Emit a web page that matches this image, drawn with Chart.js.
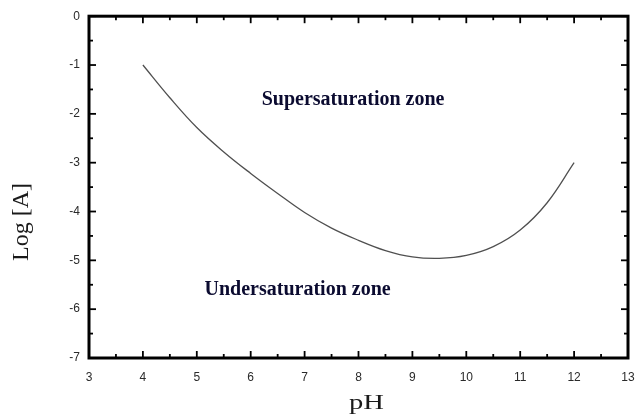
<!DOCTYPE html>
<html>
<head>
<meta charset="utf-8">
<script src="https://cdn.jsdelivr.net/npm/chart.js@4/dist/chart.umd.min.js"></script>
<style>
  html, body { margin: 0; padding: 0; background: #fff; }
  #wrap { width: 637px; height: 415px; }
</style>
</head>
<body>
<div id="wrap"><canvas id="c" width="637" height="415"></canvas></div>
<script>
// Solubility curve: log of concentration against pH
const phValues = [4, 4.5, 5, 5.5, 6, 6.5, 7, 7.5, 8, 8.5, 9, 9.5, 10, 10.5, 11, 11.5, 12];
const logA     = [-1.0, -1.67, -2.28, -2.78, -3.22, -3.63, -4.02, -4.34, -4.59, -4.80, -4.93, -4.96, -4.90, -4.72, -4.38, -3.82, -3.0];

const xTicks = [3, 4, 5, 6, 7, 8, 9, 10, 11, 12, 13];
const yTicks = [0, -1, -2, -3, -4, -5, -6, -7];

const zoneLabels = [
  { text: 'Supersaturation zone', x: 7.90, y: -1.71 },
  { text: 'Undersaturation zone', x: 6.87, y: -5.61 }
];

const xTitle = 'pH';
const yTitle = 'Log [A]';

const points = phValues.map((p, i) => ({ x: p, y: logA[i] }));

// Frame with inward major/minor ticks on all four sides, zone labels and axis titles
const framePlugin = {
  id: 'frame',
  afterDraw(chart) {
    const { ctx, chartArea: a, scales: { x, y } } = chart;
    ctx.save();
    ctx.strokeStyle = '#000';
    ctx.lineWidth = 1.8;
    const tick = (x1, y1, x2, y2) => { ctx.beginPath(); ctx.moveTo(x1, y1); ctx.lineTo(x2, y2); ctx.stroke(); };
    for (let v = xTicks[0]; v <= xTicks[xTicks.length - 1] + 1e-9; v += 0.5) {
      const px = x.getPixelForValue(v);
      const len = Number.isInteger(v) ? 7 : 4;
      tick(px, a.bottom, px, a.bottom - len);
      tick(px, a.top, px, a.top + len);
    }
    for (let v = yTicks[yTicks.length - 1]; v <= yTicks[0] + 1e-9; v += 0.5) {
      const py = y.getPixelForValue(v);
      const len = Number.isInteger(v) ? 7 : 4;
      tick(a.left, py, a.left + len, py);
      tick(a.right, py, a.right - len, py);
    }
    ctx.lineWidth = 3;
    ctx.strokeRect(a.left, a.top, a.right - a.left, a.bottom - a.top);

    // zone annotations
    ctx.fillStyle = '#0b0b30';
    ctx.font = 'bold 20px "Liberation Serif", "Times New Roman", serif';
    ctx.textAlign = 'center';
    ctx.textBaseline = 'middle';
    zoneLabels.forEach(l => ctx.fillText(l.text, x.getPixelForValue(l.x), y.getPixelForValue(l.y)));

    // axis titles
    ctx.fillStyle = '#1a1a1a';
    ctx.textBaseline = 'alphabetic';
    ctx.save();
    ctx.translate((a.left + a.right) / 2 + 8, 409);
    ctx.scale(1.3, 1);
    ctx.font = '22px "Liberation Serif", "Times New Roman", serif';
    ctx.fillText(xTitle, 0, 0);
    ctx.restore();

    ctx.save();
    ctx.translate(28, 222);
    ctx.rotate(-Math.PI / 2);
    ctx.font = '24px "Liberation Serif", "Times New Roman", serif';
    ctx.fillText(yTitle, 0, 0);
    ctx.restore();
    ctx.restore();
  }
};

const tickFont = { family: '"Liberation Sans", Arial, sans-serif', size: 12 };

new Chart(document.getElementById('c'), {
  type: 'scatter',
  data: {
    datasets: [{
      data: points,
      showLine: true,
      borderColor: '#505050',
      borderWidth: 1.3,
      pointRadius: 0,
      tension: 0.4,
      fill: false
    }]
  },
  options: {
    responsive: false,
    animation: false,
    layout: { padding: { top: 15, right: 9, left: 0, bottom: 0 } },
    plugins: { legend: { display: false }, tooltip: { enabled: false } },
    scales: {
      x: {
        type: 'linear',
        min: xTicks[0], max: xTicks[xTicks.length - 1],
        afterBuildTicks(s) { s.ticks = xTicks.map(v => ({ value: v })); },
        afterFit(s) { s.height = 57; s.paddingLeft = 0; s.paddingRight = 0; },
        grid: { display: false, drawTicks: false },
        border: { display: false },
        ticks: { padding: 12, color: '#2a2a2a', font: tickFont }
      },
      y: {
        type: 'linear',
        min: yTicks[yTicks.length - 1], max: yTicks[0],
        afterBuildTicks(s) { s.ticks = yTicks.map(v => ({ value: v })); },
        afterFit(s) { s.width = 89; },
        grid: { display: false, drawTicks: false },
        border: { display: false },
        ticks: { padding: 9, color: '#2a2a2a', font: tickFont }
      }
    }
  },
  plugins: [framePlugin]
});
</script>
</body>
</html>
